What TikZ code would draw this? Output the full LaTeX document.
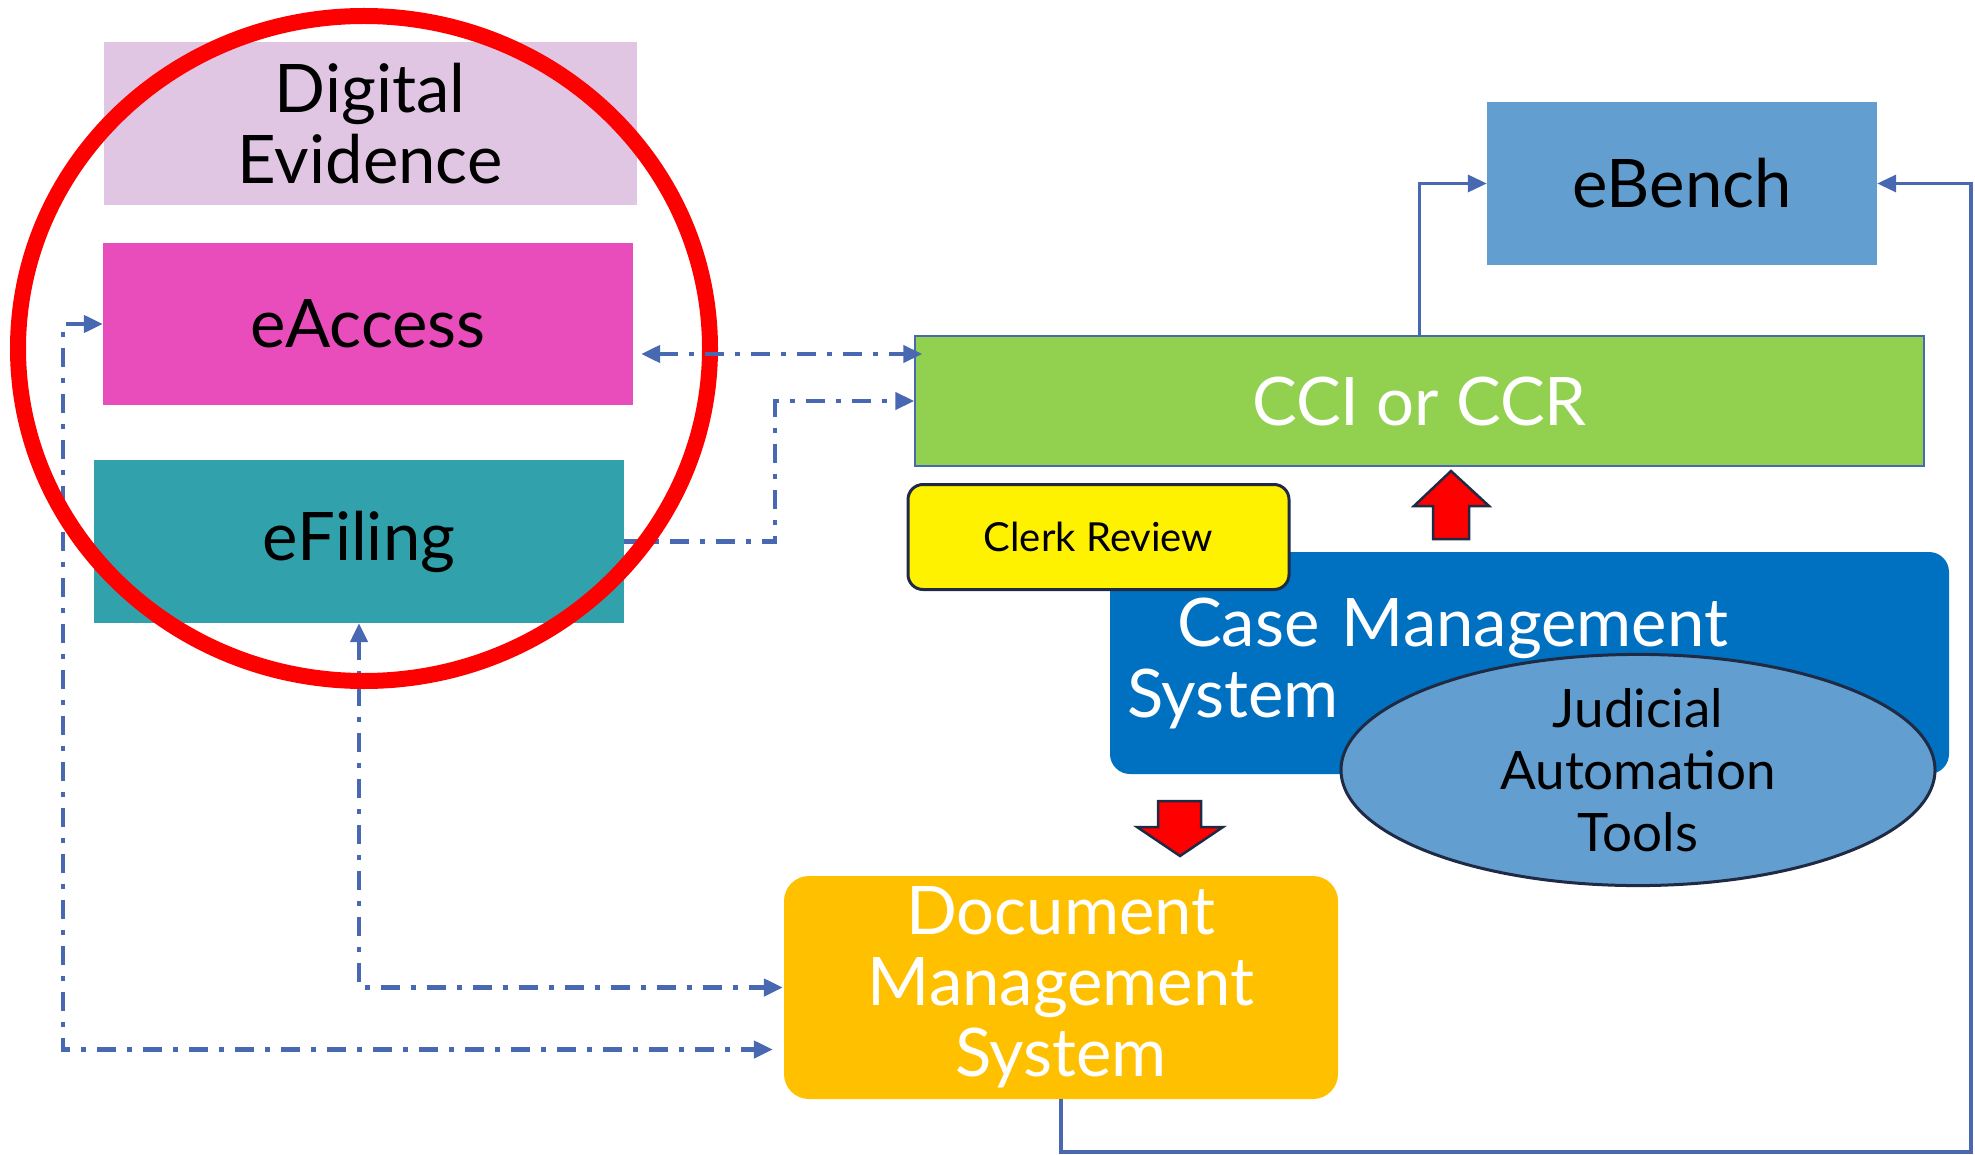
\documentclass[tikz,border=0pt]{standalone}
\usepackage{fontspec}
\setmainfont{Lato}
\usetikzlibrary{arrows.meta, shapes.geometric}

\definecolor{linkblue}{RGB}{72,104,178}
\definecolor{evlilac}{RGB}{224,198,226}
\definecolor{accesspink}{RGB}{232,77,187}
\definecolor{filingteal}{RGB}{49,162,172}
\definecolor{benchblue}{RGB}{98,159,208}
\definecolor{ccigreen}{RGB}{146,208,80}
\definecolor{cmsblue}{RGB}{0,112,192}
\definecolor{dmsorange}{RGB}{255,192,0}
\definecolor{darknavy}{RGB}{31,42,68}

\begin{document}
\begin{tikzpicture}[x=1pt, y=-1pt, >={Triangle[length=19pt,width=17pt]},
	box/.style={inner sep=0pt, align=center, font=\fontsize{67}{71}\selectfont},
	dd/.style={linkblue, line width=4.5pt, dash pattern=on 19pt off 11pt on 5pt off 11pt},
	link/.style={linkblue, line width=3.5pt, ->},
	blockarrow/.style={fill=red, draw=darknavy, line width=2.5pt, line join=miter}]
	
	% --- 1. FRAME ---
	\useasboundingbox (0,0) rectangle (1975,1155);
	
	% --- 2. LEFT BOXES ---
	\node[box, fill=evlilac, minimum width=533pt, minimum height=163pt] (digev) at (370,123.5) {Digital\\Evidence};
	\node[box, fill=accesspink, minimum width=530pt, minimum height=162pt] (eaccess) at (368,324) {eAccess};
	\node[box, fill=filingteal, minimum width=530pt, minimum height=163pt] (efiling) at (359,541.5) {eFiling};
	
	% --- 3. RIGHT BOXES ---
	\node[box, fill=benchblue, minimum width=390pt, minimum height=163pt] (ebench) at (1682,183.5) {eBench};
	\node[box, fill=ccigreen, draw=linkblue, line width=1.5pt, text=white, minimum width=1009pt, minimum height=130pt] (cci) at (1419.5,401) {CCI or CCR};
	\node[box, fill=cmsblue, text=white, rounded corners=20pt, align=left, text width=805pt, inner xsep=17pt, minimum height=222pt] (cms) at (1529.5,663) {\hspace*{50pt}Case Management\\System};
	\node[box, fill=yellow, draw=darknavy, line width=3pt, rounded corners=15pt, minimum width=381pt, minimum height=105pt, font=\fontsize{40}{46}\selectfont] (clerk) at (1098.5,537) {Clerk Review};
	\node[box, ellipse, fill=benchblue, draw=darknavy, line width=3pt, minimum width=594pt, minimum height=208pt, font=\fontsize{53}{62}\selectfont] (jat) at (1638,770) {Judicial\\Automation\\Tools};
	\node[box, fill=dmsorange, text=white, rounded corners=25pt, minimum width=554pt, minimum height=223pt] (dms) at (1061,987.5) {Document\\Management\\System};
	
	% --- 4. BLOCK ARROWS ---
	\draw[blockarrow] (1433,539) -- (1433,506) -- (1414,506) -- (1451,471) -- (1489,506) -- (1469,506) -- (1469,539) -- cycle;
	\draw[blockarrow] (1158,801) -- (1201,801) -- (1201,827) -- (1223,827) -- (1180,856) -- (1137,827) -- (1158,827) -- cycle;
	
	% --- 5. LINKS UNDER THE RING ---
	\draw[dd, ->] (efiling.east) -- ++(151,0) |- (cci.west);
	\draw[dd, <->] (efiling.south) |- ([xshift=-1pt]dms.west);
	\draw[dd, <->] (eaccess.west) -- ++(-40,0) |- ([xshift=-11pt, yshift=-62pt]dms.west);
	
	% --- 6. RED RING ---
	\draw[red, line width=16pt] (364,348.5) ellipse [x radius=346, y radius=332.5];
	
	% --- 7. LINKS OVER THE RING ---
	\draw[dd, <->] ([xshift=8pt, yshift=-30pt]eaccess.east) -- ([xshift=8pt, yshift=-30pt]eaccess.east -| cci.west);
	\draw[link] (cci.north) |- (ebench.west);
	\draw[link] (dms.south) -- ++(0,53) -| ([xshift=94pt]ebench.east) -- (ebench.east);
	
\end{tikzpicture}
\end{document}
